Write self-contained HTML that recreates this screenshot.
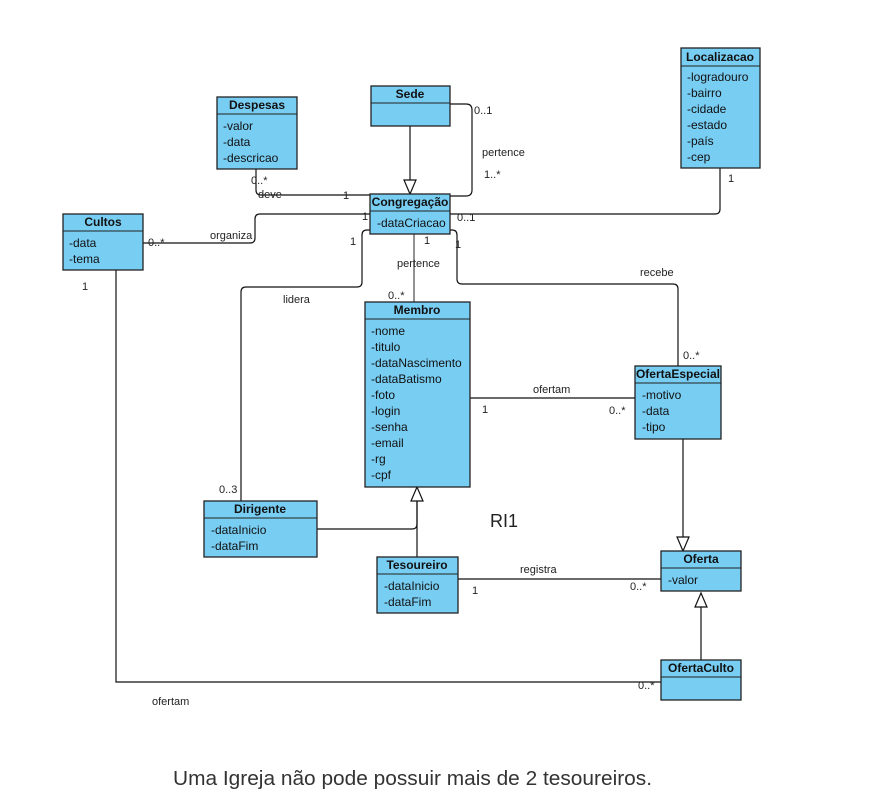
<!DOCTYPE html>
<html><head><meta charset="utf-8"><style>
html,body{margin:0;padding:0;background:#fff;}
svg{display:block;font-family:"Liberation Sans",sans-serif;}
.b{fill:#78cdf3;stroke:#222;stroke-width:1.3}
.h{font-weight:bold;font-size:12px;text-anchor:middle;fill:#111}
.a{font-size:12px;fill:#111}
.l{font-size:11px;fill:#222}
.c{fill:none;stroke:#111;stroke-width:1.2}
.t{fill:#fff;stroke:#111;stroke-width:1.2}
</style></head><body>
<svg width="883" height="809" viewBox="0 0 883 809" xmlns="http://www.w3.org/2000/svg">
<path class="c" d="M410 126 V180"/>
<polygon class="t" points="410,194 404,180 416,180"/>
<path class="c" d="M450 104 H466 Q472 104 472 110 V190 Q472 196 466 196 H450"/>
<path class="c" d="M256 169 V190 Q256 195 261 195 H370"/>
<path class="c" d="M143 243 H250 Q255 243 255 238 V219 Q255 214 260 214 H370"/>
<path class="c" d="M450 214 H715 Q720 214 720 209 V168"/>
<path class="c" d="M370 230 H367 Q362 230 362 235 V282 Q362 287 357 287 H246 Q241 287 241 292 V501"/>
<path d="M414 234 V302" stroke="#777" stroke-width="1.6" fill="none"/>
<path class="c" d="M450 230 H452 Q457 230 457 235 V279 Q457 284 462 284 H673 Q678 284 678 289 V366"/>
<path class="c" d="M470 398 H635"/>
<path class="c" d="M683 439 V537"/>
<polygon class="t" points="683,551 677,537 689,537"/>
<path class="c" d="M317 529 H412 Q417 529 417 524 V501"/>
<path class="c" d="M417 557 V501"/>
<polygon class="t" points="417,487 411,501 423,501"/>
<path class="c" d="M458 579 H661"/>
<path class="c" d="M701 660 V607"/>
<polygon class="t" points="701,593 695,607 707,607"/>
<path class="c" d="M116 270 V682 H661"/>
<g>
<rect class="b" x="217" y="97" width="80" height="72"/><line x1="217" y1="114" x2="297" y2="114" stroke="#222"/>
<text class="h" x="257" y="109">Despesas</text>
<text class="a" x="223" y="130">-valor</text><text class="a" x="223" y="146">-data</text><text class="a" x="223" y="162">-descricao</text>
</g>
<g>
<rect class="b" x="371" y="86" width="79" height="40"/><line x1="371" y1="103" x2="450" y2="103" stroke="#222"/>
<text class="h" x="410" y="98">Sede</text>
</g>
<g>
<rect class="b" x="681" y="48" width="79" height="120"/><line x1="681" y1="66" x2="760" y2="66" stroke="#222"/>
<text class="h" x="720" y="61">Localizacao</text>
<text class="a" x="687" y="81">-logradouro</text><text class="a" x="687" y="97">-bairro</text><text class="a" x="687" y="113">-cidade</text><text class="a" x="687" y="129">-estado</text><text class="a" x="687" y="145">-país</text><text class="a" x="687" y="161">-cep</text>
</g>
<g>
<rect class="b" x="63" y="214" width="80" height="56"/><line x1="63" y1="231" x2="143" y2="231" stroke="#222"/>
<text class="h" x="103" y="226">Cultos</text>
<text class="a" x="69" y="247">-data</text><text class="a" x="69" y="263">-tema</text>
</g>
<g>
<rect class="b" x="370" y="194" width="80" height="40"/><line x1="370" y1="211" x2="450" y2="211" stroke="#222"/>
<text class="h" x="410" y="206">Congregação</text>
<text class="a" x="377" y="227">-dataCriacao</text>
</g>
<g>
<rect class="b" x="365" y="302" width="105" height="185"/><line x1="365" y1="319" x2="470" y2="319" stroke="#222"/>
<text class="h" x="417" y="314">Membro</text>
<text class="a" x="371" y="335">-nome</text><text class="a" x="371" y="351">-titulo</text><text class="a" x="371" y="367">-dataNascimento</text><text class="a" x="371" y="383">-dataBatismo</text><text class="a" x="371" y="399">-foto</text><text class="a" x="371" y="415">-login</text><text class="a" x="371" y="431">-senha</text><text class="a" x="371" y="447">-email</text><text class="a" x="371" y="463">-rg</text><text class="a" x="371" y="479">-cpf</text>
</g>
<g>
<rect class="b" x="635" y="366" width="86" height="73"/><line x1="635" y1="383" x2="721" y2="383" stroke="#222"/>
<text class="h" x="678" y="378">OfertaEspecial</text>
<text class="a" x="642" y="399">-motivo</text><text class="a" x="642" y="415">-data</text><text class="a" x="642" y="431">-tipo</text>
</g>
<g>
<rect class="b" x="204" y="501" width="113" height="56"/><line x1="204" y1="518" x2="317" y2="518" stroke="#222"/>
<text class="h" x="260" y="513">Dirigente</text>
<text class="a" x="211" y="534">-dataInicio</text><text class="a" x="211" y="550">-dataFim</text>
</g>
<g>
<rect class="b" x="377" y="557" width="81" height="56"/><line x1="377" y1="574" x2="458" y2="574" stroke="#222"/>
<text class="h" x="417" y="569">Tesoureiro</text>
<text class="a" x="384" y="590">-dataInicio</text><text class="a" x="384" y="606">-dataFim</text>
</g>
<g>
<rect class="b" x="661" y="551" width="80" height="40"/><line x1="661" y1="568" x2="741" y2="568" stroke="#222"/>
<text class="h" x="701" y="563">Oferta</text>
<text class="a" x="668" y="584">-valor</text>
</g>
<g>
<rect class="b" x="661" y="660" width="80" height="40"/><line x1="661" y1="677" x2="741" y2="677" stroke="#222"/>
<text class="h" x="701" y="672">OfertaCulto</text>
</g>
<text class="l" x="474" y="114">0..1</text>
<text class="l" x="482" y="156">pertence</text>
<text class="l" x="484" y="178">1..*</text>
<text class="l" x="251" y="184">0..*</text>
<text class="l" x="258" y="198">deve</text>
<text class="l" x="343" y="199">1</text>
<text class="l" x="210" y="239">organiza</text>
<text class="l" x="148" y="246">0..*</text>
<text class="l" x="362" y="220">1</text>
<text class="l" x="457" y="221">0..1</text>
<text class="l" x="728" y="182">1</text>
<text class="l" x="350" y="245">1</text>
<text class="l" x="424" y="244">1</text>
<text class="l" x="455" y="248">1</text>
<text class="l" x="397" y="267">pertence</text>
<text class="l" x="388" y="299">0..*</text>
<text class="l" x="283" y="303">lidera</text>
<text class="l" x="219" y="493">0..3</text>
<text class="l" x="640" y="276">recebe</text>
<text class="l" x="683" y="359">0..*</text>
<text class="l" x="533" y="393">ofertam</text>
<text class="l" x="482" y="413">1</text>
<text class="l" x="609" y="414">0..*</text>
<text class="l" x="520" y="573">registra</text>
<text class="l" x="472" y="594">1</text>
<text class="l" x="630" y="590">0..*</text>
<text class="l" x="82" y="290">1</text>
<text class="l" x="152" y="705">ofertam</text>
<text class="l" x="638" y="689">0..*</text>
<text x="490" y="527" font-size="18" fill="#222">RI1</text>
<text x="173" y="785" font-size="20" fill="#333" textLength="479" lengthAdjust="spacingAndGlyphs">Uma Igreja não pode possuir mais de 2 tesoureiros.</text>
</svg>
</body></html>
